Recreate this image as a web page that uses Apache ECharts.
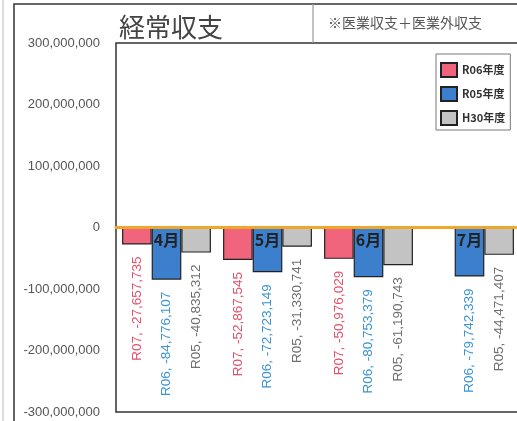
<!DOCTYPE html>
<html><head><meta charset="utf-8">
<script src="https://cdn.jsdelivr.net/npm/echarts@6/dist/echarts.min.js"></script>
<style>html,body{margin:0;padding:0;background:#fff}#c{width:517px;height:421px}</style>
</head><body><div id="c"></div>
<script>
const categories = ['4月', '5月', '6月', '7月'];
const seriesNames = ['R06年度', 'R05年度', 'H30年度'];
const labelPrefixes = ['R07', 'R06', 'R05'];
const r06Values = [-27657735, -52867545, -50976029, null];
const r05Values = [-84776107, -72723149, -80753379, -79742339];
const h30Values = [-40835312, -31330741, -61190743, -44471407];
const yMin = -300000000, yMax = 300000000, yInterval = 100000000;

const barColors = ['#f0657c', '#3c7fcc', '#c3c3c3'];
const labelColors = ['#e5506a', '#3a93d4', '#6e6e6e'];
const fmt = v => Number(v).toLocaleString('en-US');
const allValues = [r06Values, r05Values, h30Values];

const gridTop = 43, gridBottom = 9, H = 421;
const zeroOffset = -((H - gridTop - gridBottom) / 2);

const chart = echarts.init(document.getElementById('c'));
chart.setOption({
  animation: false,
  backgroundColor: '#fff',
  textStyle: { fontFamily: 'Liberation Sans, Noto Sans CJK JP, sans-serif' },
  grid: { left: 116, top: gridTop, right: -3, bottom: gridBottom, show: true, borderColor: '#333', borderWidth: 1.5, backgroundColor: '#fff', containLabel: false, outerBoundsMode: 'none' },
  legend: {
    orient: 'vertical', left: 436, top: 54,
    itemWidth: 16, itemHeight: 14, itemGap: 8,
    padding: [8, 5, 4, 4],
    borderColor: '#777', borderWidth: 1, backgroundColor: '#fff',
    icon: 'rect',
    textStyle: { fontSize: 11, fontWeight: 'bold', color: '#333', fontFamily: 'Noto Sans CJK JP, sans-serif' },
    data: seriesNames
  },
  xAxis: {
    type: 'category', data: categories, z: 10,
    position: 'bottom', offset: zeroOffset,
    axisLine: { onZero: false, lineStyle: { color: '#f0a62c', width: 3 } },
    axisTick: { show: false },
    axisLabel: { fontSize: 16, fontWeight: 'bold', color: '#222', margin: 4, fontFamily: 'Noto Sans CJK JP, sans-serif' }
  },
  yAxis: {
    type: 'value', min: yMin, max: yMax, interval: yInterval,
    axisLine: { show: false }, axisTick: { show: false }, splitLine: { show: false },
    axisLabel: { color: '#555', fontSize: 13, margin: 16, formatter: v => fmt(v) }
  },
  graphic: [
    { type: 'line', shape: { x1: 3, y1: 0, x2: 3, y2: 421 }, style: { stroke: '#bbb', lineWidth: 1 } },
    { type: 'rect', shape: { x: 14, y: 4, width: 600, height: 600 }, style: { fill: 'none', stroke: '#333', lineWidth: 1.5 }, z: 100 },
    { type: 'line', shape: { x1: 313, y1: 4, x2: 313, y2: 43 }, style: { stroke: '#999', lineWidth: 1.2 }, z: 100 },
    { type: 'text', left: 119, top: 14, style: { text: '経常収支', fontSize: 26, fill: '#444', fontFamily: 'Noto Sans CJK JP, sans-serif' }, z: 100 },
    { type: 'text', left: 328, top: 16, style: { text: '※医業収支＋医業外収支', fontSize: 14, fill: '#555', fontFamily: 'Noto Sans CJK JP, sans-serif' }, z: 100 }
  ],
  series: seriesNames.map((name, i) => ({
    name, type: 'bar', data: allValues[i],
    barGap: '0%', barCategoryGap: '12%',
    itemStyle: { color: barColors[i], borderColor: '#222', borderWidth: 1.2 },
    label: {
      show: true, position: 'bottom', distance: 12, rotate: 90,
      align: 'right', verticalAlign: 'middle',
      fontSize: 13.5, color: labelColors[i], fontFamily: 'Liberation Sans, sans-serif',
      formatter: p => labelPrefixes[i] + ', ' + fmt(p.value)
    }
  }))
});
</script></body></html>
